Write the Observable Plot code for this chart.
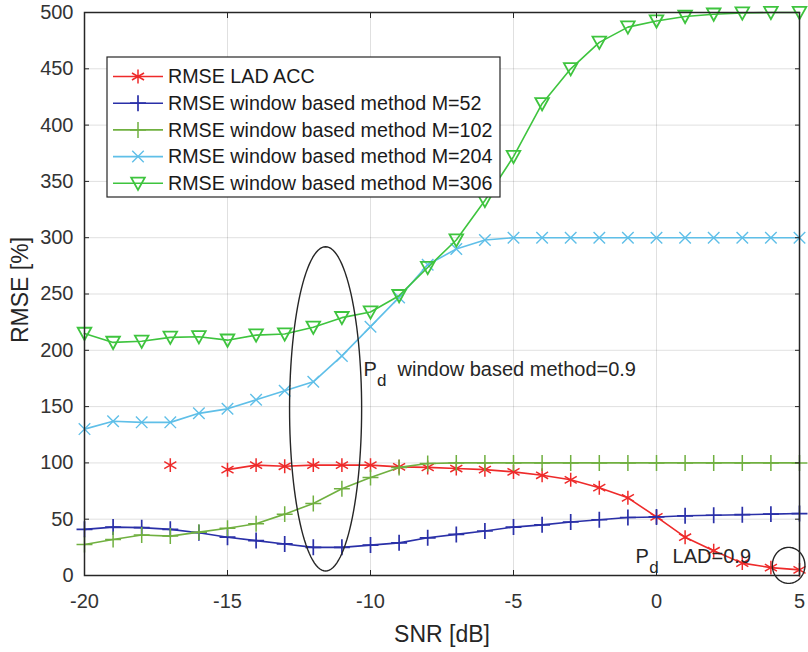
<!DOCTYPE html>
<html>
<head>
<meta charset="utf-8">
<script src="https://cdn.jsdelivr.net/npm/d3@7"></script>
<script src="https://cdn.jsdelivr.net/npm/@observablehq/plot@0.6"></script>
<style>
  body { margin: 0; background: #fff; }
  #chart { position: relative; width: 808px; height: 652px; }
</style>
</head>
<body>
<div id="chart"></div>
<script>
// ---------- data ----------
const snr = [-20, -19, -18, -17, -16, -15, -14, -13, -12, -11, -10, -9, -8, -7, -6, -5, -4, -3, -2, -1, 0, 1, 2, 3, 4, 5];
const rmseLadAcc = [null, null, null, 98, null, 94, 98, 97, 98, 98, 98, 96.5, 96, 95, 94, 92, 89, 85, 78, 69, 52, 34, 22, 11, 7, 5];
const rmseM52  = [41, 43, 42.5, 41, 38, 34, 31, 28, 25, 25, 27, 29, 33.5, 36.5, 39.5, 43, 45, 47.5, 49.5, 51.5, 52, 53, 53.5, 54, 54.5, 55];
const rmseM102 = [27.5, 32, 36, 35, 38.5, 42, 46, 54.5, 64, 77, 87, 96, 99.5, 100, 100, 100, 100, 100, 100, 100, 100, 100, 100, 100, 100, 100];
const rmseM204 = [130, 137, 136, 136, 144, 148, 156, 164, 172, 195, 221, 247, 276, 290, 298, 300, 300, 300, 300, 300, 300, 300, 300, 300, 300, 300];
const rmseM306 = [215, 207, 208, 211.5, 212, 209, 213.5, 214.5, 220.5, 229, 234, 248.5, 273.5, 298, 333, 372, 419, 450, 473.5, 487, 492.5, 496.5, 498.5, 499.5, 500, 500];

const seriesNames = [
  "RMSE LAD ACC",
  "RMSE window based method M=52",
  "RMSE window based method M=102",
  "RMSE window based method M=204",
  "RMSE window based method M=306"
];
const seriesValues = [rmseLadAcc, rmseM52, rmseM102, rmseM204, rmseM306];
const seriesColors = ["#ee2a2a", "#2a30a8", "#70b040", "#5fbfe8", "#3ec43e"];

const xTicks = [-20, -15, -10, -5, 0, 5];
const yTicks = [0, 50, 100, 150, 200, 250, 300, 350, 400, 450, 500];

// annotations (data units)
const bigEllipse = {cx: -11.57, cy: 148, rx: 1.26, ry: 144};
const smallEllipse = {cx: 4.62, cy: 9, rx: 0.57, ry: 16};
const noteWindow = {x: -10.245, y: 177.6, sub: "d", text: "window based method=0.9", dx: 34};
const noteLad = {x: -0.73, y: 11.5, sub: "d", text: "LAD=0.9", dx: 37};

// ---------- styles ----------
const FONT = "'Liberation Sans', Arial, Helvetica, sans-serif";
const AX = "#262626";

const triangleDown = {
  draw(context, size) {
    const r = Math.sqrt(size / Math.PI);
    context.moveTo(-1.08 * r, -0.9 * r);
    context.lineTo(1.08 * r, -0.9 * r);
    context.lineTo(0, 1.05 * r);
    context.closePath();
  }
};
const plotSymbols = ["asterisk", "plus", "plus", "times", triangleDown];
const d3Symbols = [d3.symbolAsterisk, d3.symbolPlus, d3.symbolPlus, d3.symbolTimes, triangleDown];
const symbolR = [6.6, 5.2, 5.2, 5.3, 6.3];
const symbolStroke = [1.5, 1.7, 1.5, 1.4, 1.8];

const series = seriesNames.map((name, i) => ({
  name, color: seriesColors[i], symbol: plotSymbols[i], r: symbolR[i], sw: symbolStroke[i],
  rows: snr.map((x, j) => ({x, y: seriesValues[i][j]}))
}));

function ellipsePts(e) {
  const pts = [];
  for (let k = 0; k <= 120; k++) {
    const t = (k / 120) * 2 * Math.PI;
    pts.push({x: e.cx + e.rx * Math.cos(t), y: e.cy + e.ry * Math.sin(t)});
  }
  return pts;
}

const marks = [
  Plot.gridX({ticks: xTicks, stroke: AX, strokeOpacity: 0.14, strokeWidth: 1}),
  Plot.gridY({ticks: yTicks, stroke: AX, strokeOpacity: 0.14, strokeWidth: 1}),
];
series.forEach(s => {
  marks.push(Plot.line(s.rows, {x: "x", y: "y", stroke: s.color, strokeWidth: 1.6}));
  marks.push(Plot.dot(s.rows.filter(d => d.y != null), {x: "x", y: "y", symbol: s.symbol, r: s.r, stroke: s.color, strokeWidth: s.sw, fill: "none"}));
});
marks.push(
  Plot.line(ellipsePts(bigEllipse), {x: "x", y: "y", stroke: AX, strokeWidth: 1.4}),
  Plot.line(ellipsePts(smallEllipse), {x: "x", y: "y", stroke: AX, strokeWidth: 1.4}),
);
[noteWindow, noteLad].forEach(n => {
  marks.push(
    Plot.text([n], {x: "x", y: "y", text: () => "P", textAnchor: "start", lineAnchor: "bottom", fontSize: 20, fill: AX}),
    Plot.text([n], {x: "x", y: "y", text: d => d.sub, textAnchor: "start", lineAnchor: "bottom", fontSize: 17, dx: 13.6, dy: 10, fill: AX}),
    Plot.text([n], {x: "x", y: "y", text: d => d.text, textAnchor: "start", lineAnchor: "bottom", fontSize: 20, dx: n.dx, fill: AX})
  );
});
marks.push(
  Plot.frame({stroke: AX, strokeWidth: 1.5}),
  Plot.axisX({ticks: xTicks, tickSize: 0, tickPadding: 18, tickFormat: d => String(d), fontSize: 20, label: null}),
  Plot.axisX({ticks: xTicks, tickSize: 5, dy: -5, tickFormat: () => "", label: null, stroke: AX}),
  Plot.axisX({ticks: xTicks, anchor: "top", tickSize: 5, dy: 5, tickFormat: () => "", label: null, stroke: AX}),
  Plot.axisY({ticks: yTicks, tickSize: 0, tickPadding: 11, tickFormat: d => String(d), fontSize: 20, label: null}),
  Plot.axisY({ticks: yTicks, tickSize: 5, dx: 5, tickFormat: () => "", label: null, stroke: AX}),
  Plot.axisY({ticks: yTicks, anchor: "right", tickSize: 5, dx: -5, tickFormat: () => "", label: null, stroke: AX}),
  Plot.text(["SNR [dB]"], {frameAnchor: "bottom", dy: 59, textAnchor: "middle", lineAnchor: "middle", fontSize: 23, fill: AX}),
  Plot.text(["RMSE [%]"], {frameAnchor: "left", dx: -64, dy: -4, rotate: -90, textAnchor: "middle", lineAnchor: "middle", fontSize: 23, fill: AX})
);

const plot = Plot.plot({
  width: 808,
  height: 652,
  marginLeft: 84,
  marginRight: 9,
  marginTop: 12,
  marginBottom: 77,
  x: {domain: [-20, 5]},
  y: {domain: [0, 500]},
  style: {fontFamily: FONT, fontSize: "20px", color: "#333", background: "#fff", overflow: "visible"},
  marks
});

// ---------- legend (inside the axes, top-left) ----------
const L = {x: 107, y: 57, w: 393, h: 140, row0: 76.5, rowStep: 26.7, lineX1: 113, lineX2: 163, textX: 168};
const lg = d3.select(plot).append("g").attr("font-family", FONT).attr("font-size", 19.7).attr("text-anchor", "start");
lg.append("rect").attr("x", L.x).attr("y", L.y).attr("width", L.w).attr("height", L.h)
  .attr("fill", "#fff").attr("stroke", AX).attr("stroke-width", 1.2);
series.forEach((s, i) => {
  const cy = L.row0 + i * L.rowStep;
  lg.append("line").attr("x1", L.lineX1).attr("x2", L.lineX2).attr("y1", cy).attr("y2", cy)
    .attr("stroke", s.color).attr("stroke-width", 1.6);
  lg.append("path").attr("transform", `translate(${(L.lineX1 + L.lineX2) / 2},${cy})`)
    .attr("d", d3.symbol(d3Symbols[i], Math.PI * s.r * s.r)())
    .attr("fill", "none").attr("stroke", s.color).attr("stroke-width", s.sw);
  lg.append("text").attr("x", L.textX).attr("y", cy).attr("dy", "0.35em").attr("text-anchor", "start")
    .attr("fill", "#1a1a1a").text(s.name);
});

document.getElementById("chart").appendChild(plot);
</script>
</body>
</html>
